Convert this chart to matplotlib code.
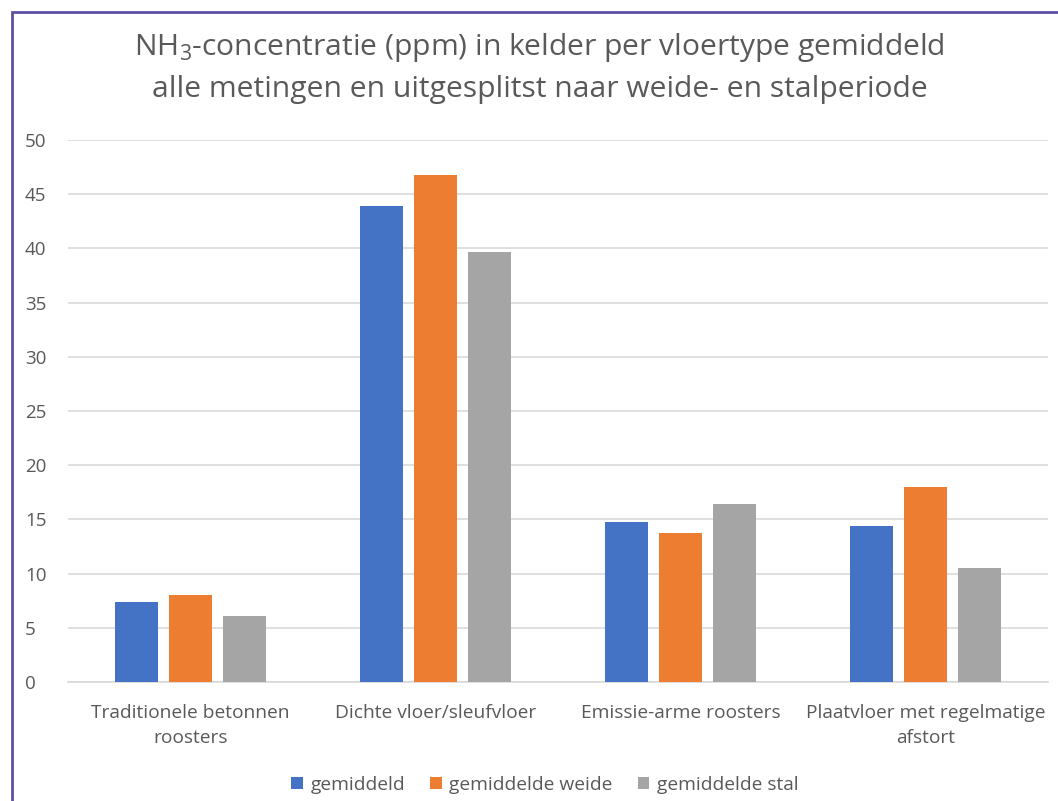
import numpy as np
import matplotlib
matplotlib.use("Agg")
import matplotlib.pyplot as plt
from matplotlib.patches import Rectangle

# Data
categories = ["Traditionele betonnen\nroosters", "Dichte vloer/sleufvloer",
              "Emissie-arme roosters", "Plaatvloer met regelmatige\nafstort"]
gemiddeld = [7.4, 43.9, 14.8, 14.4]
gemiddelde_weide = [8.0, 46.8, 13.7, 18.0]
gemiddelde_stal = [6.1, 39.7, 16.4, 10.5]
series_labels = ["gemiddeld", "gemiddelde weide", "gemiddelde stal"]
yticks = [0, 5, 10, 15, 20, 25, 30, 35, 40, 45, 50]

colors = ["#4472C4", "#ED7D31", "#A5A5A5"]
text_color = "#595959"

plt.rcParams["font.family"] = ["Open Sans", "DejaVu Sans"]
plt.rcParams["mathtext.fontset"] = "custom"
plt.rcParams["mathtext.rm"] = "Open Sans"

W, H = 1058, 801
fig = plt.figure(figsize=(W / 100, H / 100), dpi=100)
ax = fig.add_axes([68 / W, 1 - 682 / H, 980 / W, 542 / H])

x = np.arange(len(categories))
width = 0.175
step = 0.22
for i, (vals, lab) in enumerate(zip([gemiddeld, gemiddelde_weide, gemiddelde_stal], series_labels)):
    ax.bar(x + (i - 1) * step, vals, width, color=colors[i], label=lab, zorder=3)

ax.set_xlim(-0.5, len(categories) - 0.5)
ax.set_ylim(0, 50)
ax.set_yticks(yticks)
ax.set_xticks(x)
ax.set_xticklabels(categories, fontsize=13.8, color=text_color, linespacing=1.45)
ax.tick_params(axis="y", labelsize=13.5, colors=text_color, length=0, pad=31)
ax.tick_params(axis="x", length=0, pad=16)
for lbl in ax.get_yticklabels():
    lbl.set_horizontalalignment("left")
ax.grid(axis="y", color="#D9D9D9", linewidth=1.2, zorder=0)
for s in ["top", "right", "left"]:
    ax.spines[s].set_visible(False)
ax.spines["bottom"].set_color("#D9D9D9")
ax.spines["bottom"].set_linewidth(1.2)

fig.text(0.51, 1 - 48 / H, "NH$_3$-concentratie (ppm) in kelder per vloertype gemiddeld",
         ha="center", va="center", fontsize=21.6, color=text_color)
fig.text(0.51, 1 - 90 / H, "alle metingen en uitgesplitst naar weide- en stalperiode",
         ha="center", va="center", fontsize=21.6, color=text_color)

leg = fig.legend(loc="center", bbox_to_anchor=(0.515, 1 - 785 / H), ncol=3, frameon=False,
                 fontsize=13.8, handlelength=0.6, handleheight=0.6, handletextpad=0.4,
                 columnspacing=1.3)
for t in leg.get_texts():
    t.set_color(text_color)

fig.patches.append(Rectangle((12 / W, -0.05), 1.1, 1 - 12 / H + 0.05, transform=fig.transFigure,
                             fill=False, edgecolor="#5B4FA6", linewidth=2))

fig.savefig("out.png", dpi=100)
